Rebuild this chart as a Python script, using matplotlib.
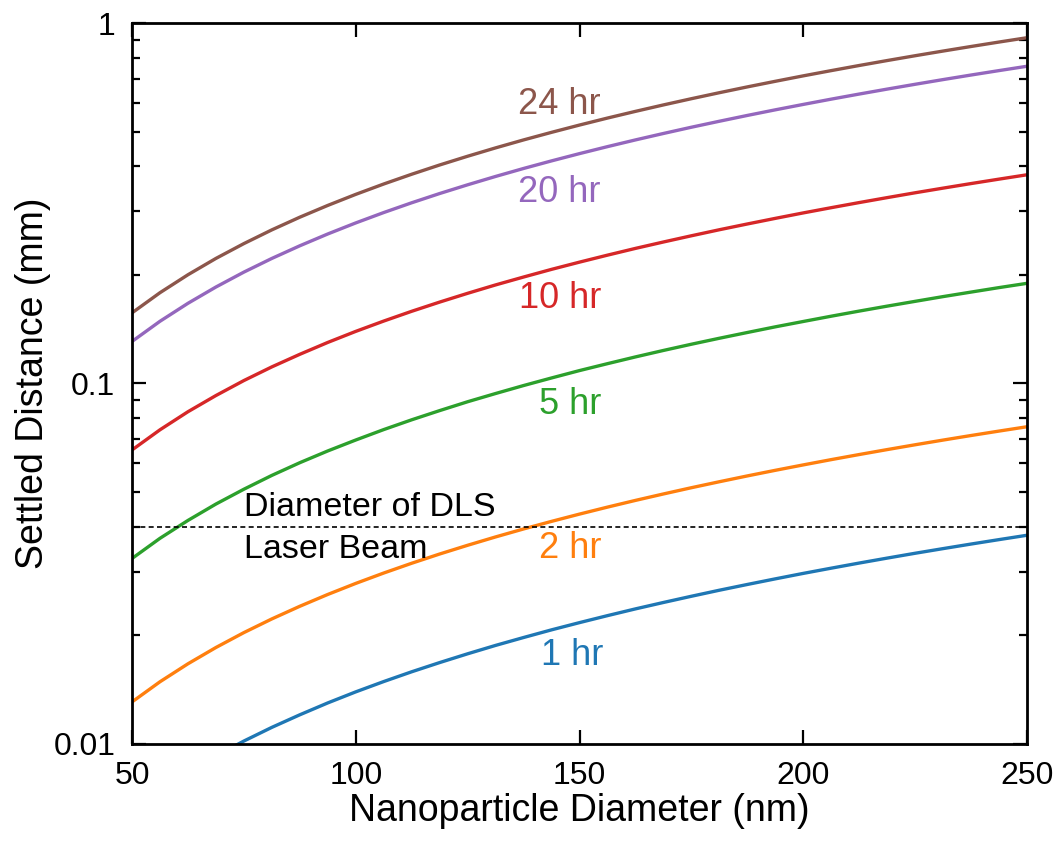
import numpy as np
import matplotlib
matplotlib.use("Agg")
from matplotlib import pyplot as plt
from matplotlib.ticker import FixedLocator, FixedFormatter, LogLocator, NullFormatter

plt.rcParams['font.family'] = ['Liberation Sans', 'DejaVu Sans']

# particle diameter (nm), every 6.25 nm from 50 to 250
diameter = [50, 56.25, 62.5, 68.75, 75, 81.25, 87.5, 93.75, 100, 106.25, 112.5,
            118.75, 125, 131.25, 137.5, 143.75, 150, 156.25, 162.5, 168.75, 175,
            181.25, 187.5, 193.75, 200, 206.25, 212.5, 218.75, 225, 231.25, 237.5,
            243.75, 250]

# settled distance (mm)
d_1hr = [0.00654, 0.00744, 0.00835, 0.00926, 0.01019, 0.01112, 0.01205, 0.01300,
         0.01395, 0.01490, 0.01586, 0.01682, 0.01779, 0.01877, 0.01974, 0.02073,
         0.02171, 0.02270, 0.02370, 0.02469, 0.02569, 0.02670, 0.02770, 0.02871,
         0.02973, 0.03074, 0.03176, 0.03278, 0.03381, 0.03483, 0.03586, 0.03689,
         0.03793]
d_2hr = [0.01308, 0.01488, 0.01669, 0.01852, 0.02037, 0.02223, 0.02410, 0.02599,
         0.02789, 0.02980, 0.03172, 0.03365, 0.03558, 0.03753, 0.03949, 0.04145,
         0.04342, 0.04540, 0.04739, 0.04938, 0.05139, 0.05339, 0.05541, 0.05743,
         0.05945, 0.06149, 0.06352, 0.06556, 0.06761, 0.06967, 0.07173, 0.07379,
         0.07586]
d_5hr = [0.0327, 0.0372, 0.0417, 0.0463, 0.0509, 0.0556, 0.0603, 0.0650, 0.0697,
         0.0745, 0.0793, 0.0841, 0.0890, 0.0938, 0.0987, 0.1036, 0.1086, 0.1135,
         0.1185, 0.1235, 0.1285, 0.1335, 0.1385, 0.1436, 0.1486, 0.1537, 0.1588,
         0.1639, 0.1690, 0.1742, 0.1793, 0.1845, 0.1896]
d_10hr = [0.0654, 0.0744, 0.0835, 0.0926, 0.1019, 0.1112, 0.1205, 0.1300, 0.1395,
          0.1490, 0.1586, 0.1682, 0.1779, 0.1877, 0.1974, 0.2073, 0.2171, 0.2270,
          0.2370, 0.2469, 0.2569, 0.2670, 0.2770, 0.2871, 0.2973, 0.3074, 0.3176,
          0.3278, 0.3381, 0.3483, 0.3586, 0.3689, 0.3793]
d_20hr = [0.1308, 0.1488, 0.1669, 0.1852, 0.2037, 0.2223, 0.2410, 0.2599, 0.2789,
          0.2980, 0.3172, 0.3365, 0.3558, 0.3753, 0.3949, 0.4145, 0.4342, 0.4540,
          0.4739, 0.4938, 0.5139, 0.5339, 0.5541, 0.5743, 0.5945, 0.6149, 0.6352,
          0.6556, 0.6761, 0.6967, 0.7173, 0.7379, 0.7586]
d_24hr = [0.1570, 0.1786, 0.2003, 0.2223, 0.2444, 0.2668, 0.2893, 0.3119, 0.3347,
          0.3576, 0.3806, 0.4038, 0.4270, 0.4504, 0.4739, 0.4974, 0.5211, 0.5449,
          0.5687, 0.5926, 0.6166, 0.6407, 0.6649, 0.6891, 0.7135, 0.7378, 0.7623,
          0.7868, 0.8114, 0.8360, 0.8607, 0.8855, 0.9103]

beam_diameter = 0.04  # mm

series = [
    ("1 hr", d_1hr, "#1f77b4", 148.3, 0.0166),
    ("2 hr", d_2hr, "#ff7f0e", 148.0, 0.0328),
    ("5 hr", d_5hr, "#2ca02c", 147.9, 0.0823),
    ("10 hr", d_10hr, "#d62728", 145.6, 0.162),
    ("20 hr", d_20hr, "#9467bd", 145.5, 0.319),
    ("24 hr", d_24hr, "#8c564b", 145.5, 0.559),
]

fig = plt.figure(figsize=(10.57, 8.49), dpi=100)
ax = fig.add_axes([0.1249, 0.1237, 0.8467, 0.8492])

for name, vals, col, lx, ly in series:
    ax.plot(diameter, vals, color=col, lw=2.4)
    ax.text(lx, ly, name, color=col, fontsize=26, ha='center', va='baseline')

ax.axhline(beam_diameter, color='black', lw=1.2, dashes=(3, 2))
ax.annotate("Diameter of DLS", (75, beam_diameter), xytext=(0, 8),
            textcoords='offset points', fontsize=24.5, ha='left', va='baseline')
ax.annotate("Laser Beam", (75, beam_diameter), xytext=(0, -22),
            textcoords='offset points', fontsize=24.5, ha='left', va='baseline')

ax.set_yscale('log')
ax.set_xlim(50, 250)
ax.set_ylim(0.01, 1)

ax.xaxis.set_major_locator(FixedLocator([50, 100, 150, 200, 250]))
ax.yaxis.set_major_locator(FixedLocator([0.01, 0.1, 1]))
ax.yaxis.set_major_formatter(FixedFormatter(["0.01", "0.1", "1"]))
ax.yaxis.set_minor_locator(LogLocator(base=10, subs=np.arange(2, 10)))
ax.yaxis.set_minor_formatter(NullFormatter())

ax.tick_params(which='both', direction='in', top=True, right=True, width=1.6)
ax.tick_params(which='major', length=10, labelsize=23)
ax.tick_params(which='minor', length=6)
ax.tick_params(axis='x', pad=12)
ax.tick_params(axis='y', pad=12)
for s in ax.spines.values():
    s.set_linewidth(2)

ax.set_xlabel("Nanoparticle Diameter (nm)", fontsize=27, labelpad=2)
ax.set_ylabel("Settled Distance (mm)", fontsize=27, labelpad=2)

fig.savefig("out.png", dpi=100)
